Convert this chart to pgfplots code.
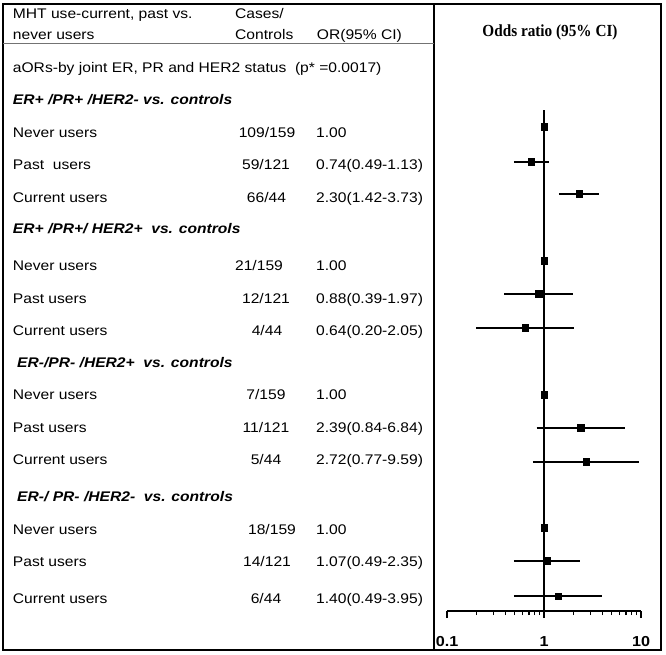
\documentclass[border=0pt]{standalone}
\usepackage{fontspec}
\setmainfont{Liberation Sans}[FakeStretch=1.12]
\newfontfamily\titlefont{Liberation Serif}[FakeStretch=0.9]
\usepackage{pgfplots}
\pgfplotsset{compat=1.18}
\usepackage{pgfplotstable}

\pgfplotstableread{
or y
1.00 528
0.74 493.3
2.30 461
1.00 394.3
0.88 361.3
0.64 327
1.00 260
2.39 227.3
2.72 193.3
1.00 127.3
1.07 94
1.40 59
}\ormarks

\newcommand{\fs}{\fontsize{14}{16}\selectfont}

\begin{document}
\begin{tikzpicture}[x=1bp,y=1bp]
\useasboundingbox (0,0) rectangle (666,655);
\fill[white] (0,0) rectangle (666,655);
\draw[line width=1.8bp] (3,5) rectangle (434,651);
\draw[line width=1.8bp] (434,5) rectangle (661,651);
\draw[line width=0.8bp, black!55] (3,611.5) -- (434,611.5);

\begin{scope}[every node/.style={inner sep=0pt, font=\fs}]
\node[anchor=base west] at (12.7,636.7) {MHT use-current, past vs.};
\node[anchor=base west] at (12.7,615.7) {never users};
\node[anchor=base west] at (235,636.7) {Cases/};
\node[anchor=base west] at (235,615.7) {Controls};
\node[anchor=base west] at (316.7,615.7) {OR(95\% CI)};
\node[anchor=base west] at (12.7,582.3) {aORs-by joint ER, PR and HER2 status\ \ (p* =0.0017)};

\node[anchor=base west, font=\fs\bfseries\itshape] at (12.7,550) {ER+ /PR+ /HER2- vs. controls};
\node[anchor=base west, font=\fs\bfseries\itshape] at (12.7,421.7) {ER+ /PR+/ HER2+\ \ vs. controls};
\node[anchor=base west, font=\fs\bfseries\itshape] at (17,287.7) {ER-/PR- /HER2+\ \ vs. controls};
\node[anchor=base west, font=\fs\bfseries\itshape] at (17,153.3) {ER-/ PR- /HER2-\ \ vs. controls};

\node[anchor=base west] at (12.7,517.7) {Never users};
\node[anchor=base] at (267,517.7) {109/159};
\node[anchor=base west] at (316,517.7) {1.00};
\node[anchor=base west] at (12.7,485) {Past\ \ users};
\node[anchor=base] at (266,485) {59/121};
\node[anchor=base west] at (316,485) {0.74(0.49-1.13)};
\node[anchor=base west] at (12.7,452.3) {Current users};
\node[anchor=base] at (266.5,452.3) {66/44};
\node[anchor=base west] at (316,452.3) {2.30(1.42-3.73)};

\node[anchor=base west] at (12.7,384) {Never users};
\node[anchor=base] at (259,384) {21/159};
\node[anchor=base west] at (316,384) {1.00};
\node[anchor=base west] at (12.7,351) {Past users};
\node[anchor=base] at (266,351) {12/121};
\node[anchor=base west] at (316,351) {0.88(0.39-1.97)};
\node[anchor=base west] at (12.7,319) {Current users};
\node[anchor=base] at (267,319) {4/44};
\node[anchor=base west] at (316,319) {0.64(0.20-2.05)};

\node[anchor=base west] at (12.7,255) {Never users};
\node[anchor=base] at (266,255) {7/159};
\node[anchor=base west] at (316,255) {1.00};
\node[anchor=base west] at (12.7,222.3) {Past users};
\node[anchor=base] at (266,222.3) {11/121};
\node[anchor=base west] at (316,222.3) {2.39(0.84-6.84)};
\node[anchor=base west] at (12.7,190) {Current users};
\node[anchor=base] at (266,190) {5/44};
\node[anchor=base west] at (316,190) {2.72(0.77-9.59)};

\node[anchor=base west] at (12.7,120.7) {Never users};
\node[anchor=base] at (272,120.7) {18/159};
\node[anchor=base west] at (316,120.7) {1.00};
\node[anchor=base west] at (12.7,88.3) {Past users};
\node[anchor=base] at (267,88.3) {14/121};
\node[anchor=base west] at (316,88.3) {1.07(0.49-2.35)};
\node[anchor=base west] at (12.7,51.7) {Current users};
\node[anchor=base] at (266,51.7) {6/44};
\node[anchor=base west] at (316,51.7) {1.40(0.49-3.95)};

\node[anchor=base, font=\titlefont\bfseries\fontsize{17}{19}\selectfont] at (550,618) {Odds ratio (95\% CI)};
\end{scope}

\begin{axis}[
  at={(447bp,44bp)}, anchor=south west,
  scale only axis, width=194bp, height=611bp,
  xmode=log, xmin=0.1, xmax=10, ymin=44, ymax=655,
  axis x line=bottom, axis y line=none,
  axis line style={-, line width=1.5bp, black},
  xtick={0.1,1,10}, xticklabels={0.1,1,10},
  minor xtick={0.2,0.3,0.4,0.5,0.6,0.7,0.8,0.9,2,3,4,5,6,7,8,9},
  tick align=outside, major tick length=7bp, minor tick length=4bp,
  every tick/.style={line width=1.3bp, black},
  xticklabel style={font=\bfseries\fontsize{14.5}{14.5}\selectfont, anchor=base, yshift=-28bp},
  clip=false,
]
\addplot[line width=2bp, black] coordinates {(0.49,493.3) (1.13,493.3)};
\addplot[line width=2bp, black] coordinates {(1.42,461) (3.73,461)};
\addplot[line width=2bp, black] coordinates {(0.39,361.3) (1.97,361.3)};
\addplot[line width=2bp, black] coordinates {(0.20,327) (2.05,327)};
\addplot[line width=2bp, black] coordinates {(0.84,227.3) (6.84,227.3)};
\addplot[line width=2bp, black] coordinates {(0.77,193.3) (9.59,193.3)};
\addplot[line width=2bp, black] coordinates {(0.49,94) (2.35,94)};
\addplot[line width=2bp, black] coordinates {(0.49,59) (3.95,59)};
\addplot[line width=1.8bp, black] coordinates {(1,44) (1,545)};
\addplot[only marks, mark=square*, mark size=3.3bp, black] table[x=or,y=y] {\ormarks};
\end{axis}
\end{tikzpicture}
\end{document}
